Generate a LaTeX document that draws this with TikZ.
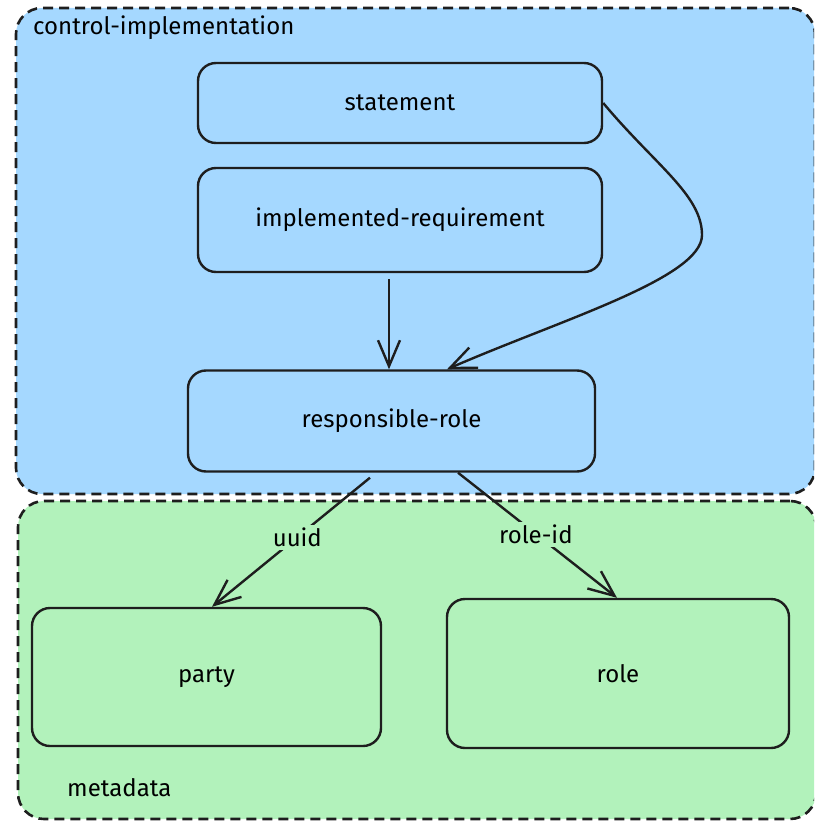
\documentclass[tikz,border=0pt]{standalone}
\usepackage{fontspec}
\setmainfont{Fira Sans}
\usetikzlibrary{arrows.meta}
\definecolor{bluefill}{HTML}{A5D8FF}
\definecolor{greenfill}{HTML}{B2F2BB}
\definecolor{ink}{HTML}{1E1E1E}
\begin{document}
\begin{tikzpicture}[x=1pt,y=-1pt,
  container/.style={draw=ink, line width=2.6pt, dash pattern=on 10pt off 6pt, rounded corners=26pt, inner sep=0pt},
  box/.style={draw=ink, line width=2.4pt, rounded corners=18pt, inner sep=0pt, font=\fontsize{24}{28}\selectfont},
  grouplabel/.style={anchor=west, inner sep=0pt, font=\fontsize{24}{28}\selectfont},
  edgelabel/.style={fill=greenfill, inner sep=3pt, font=\fontsize{24}{28}\selectfont},
  arr/.style={draw=ink, line width=2.4pt, -{Straight Barb[length=26pt,width=22pt,line width=2.4pt]}}
]
\path[use as bounding box] (0,0) rectangle (814,821);
\begin{scope}
\clip (0,0) rectangle (814,821);
\node[container, fill=bluefill, minimum width=799pt, minimum height=486pt] (ctrl) at (415.5,251) {};
\node[container, fill=greenfill, minimum width=798pt, minimum height=318pt] (meta) at (417,660) {};
\end{scope}
\node[grouplabel] (ctrllbl) at (33,28) {control-implementation};
\node[grouplabel] (metalbl) at (67,788) {metadata};

\node[box, minimum width=404pt, minimum height=80pt] (stmt) at (400,103) {statement};
\node[box, minimum width=404pt, minimum height=104pt] (impl) at (400,220) {implemented-requirement};
\node[box, minimum width=407pt, minimum height=101pt] (resp) at (391.5,421) {responsible-role};
\node[box, minimum width=349pt, minimum height=138pt] (party) at (206.5,677) {party};
\node[box, minimum width=342pt, minimum height=149pt] (role) at (618,673.5) {role};

\draw[arr] ([xshift=-11pt,yshift=-6pt]impl.south) -- ([xshift=-2.5pt]resp.north);
\draw[arr] (stmt.east) .. controls (655,165) and (702,195) .. (702,235)
  .. controls (702,278) and (560,320) .. ([xshift=55.5pt]resp.north);
\draw[arr] ([xshift=-21.5pt,yshift=-5pt]resp.south) -- node[edgelabel, pos=0.46] (uuidlbl) {uuid} ([xshift=5.5pt]party.north);
\draw[arr] ([xshift=66.5pt]resp.south) -- node[edgelabel, pos=0.49] (roleidlbl) {role-id} ([xshift=-1pt]role.north);
\end{tikzpicture}
\end{document}
